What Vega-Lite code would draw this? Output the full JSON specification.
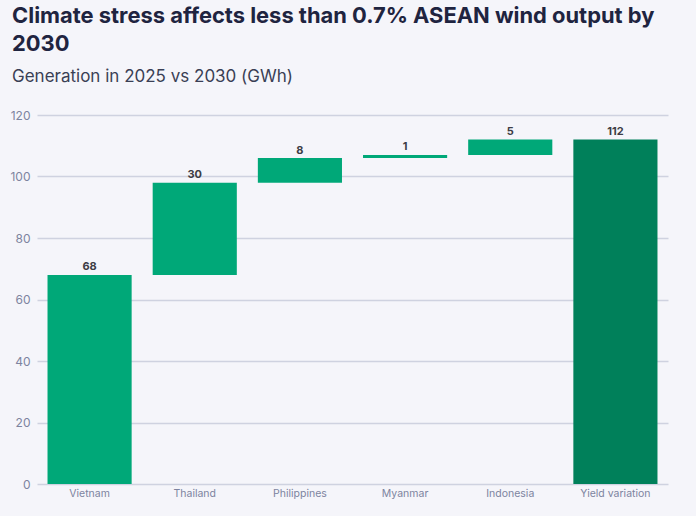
{"$schema":"https://vega.github.io/schema/vega-lite/v6.json","width":631,"height":369,"autosize":"none","padding":{"left":37,"top":115,"right":28,"bottom":32},"background":"#f5f5fa","title":{"text":["Climate stress affects less than 0.7% ASEAN wind output by","2030"],"subtitle":"Generation in 2025 vs 2030 (GWh)","anchor":"start","frame":"group","dx":-25,"offset":23,"font":"Inter","fontSize":21.9,"fontWeight":700,"color":"#1f2440","lineHeight":28,"subtitleFont":"Inter","subtitleFontSize":17,"subtitleFontWeight":400,"subtitleColor":"#3a3f55","subtitlePadding":13},"data":{"values":[{"country":"Vietnam","start":0,"end":68,"value":68,"kind":"country"},{"country":"Thailand","start":68,"end":98,"value":30,"kind":"country"},{"country":"Philippines","start":98,"end":106,"value":8,"kind":"country"},{"country":"Myanmar","start":106,"end":107,"value":1,"kind":"country"},{"country":"Indonesia","start":107,"end":112,"value":5,"kind":"country"},{"country":"Yield variation","start":0,"end":112,"value":112,"kind":"total"}]},"config":{"view":{"stroke":null}},"encoding":{"x":{"field":"country","type":"nominal","sort":null,"scale":{"paddingInner":0.2,"paddingOuter":0.1},"axis":{"title":null,"labelAngle":0,"labelFont":"Inter","labelFontSize":10.5,"labelColor":"#7d849f","labelPadding":4,"ticks":false,"domain":false}}},"layer":[{"mark":{"type":"bar"},"encoding":{"y":{"field":"start","type":"quantitative","scale":{"domain":[0,120],"nice":false},"axis":{"title":null,"values":[0,20,40,60,80,100,120],"labelFont":"Inter","labelFontSize":12,"labelColor":"#7d849f","labelPadding":7,"ticks":false,"domain":false,"grid":true,"gridColor":"#cfd2e0","gridWidth":1.5}},"y2":{"field":"end"},"color":{"field":"kind","type":"nominal","legend":null,"scale":{"domain":["country","total"],"range":["#00a878","#00805a"]}}}},{"mark":{"type":"text","baseline":"bottom","dy":-2.5,"font":"Inter","fontSize":11,"fontWeight":700,"color":"#3d3d45"},"encoding":{"y":{"field":"end","type":"quantitative"},"text":{"field":"value","type":"quantitative"}}}]}
